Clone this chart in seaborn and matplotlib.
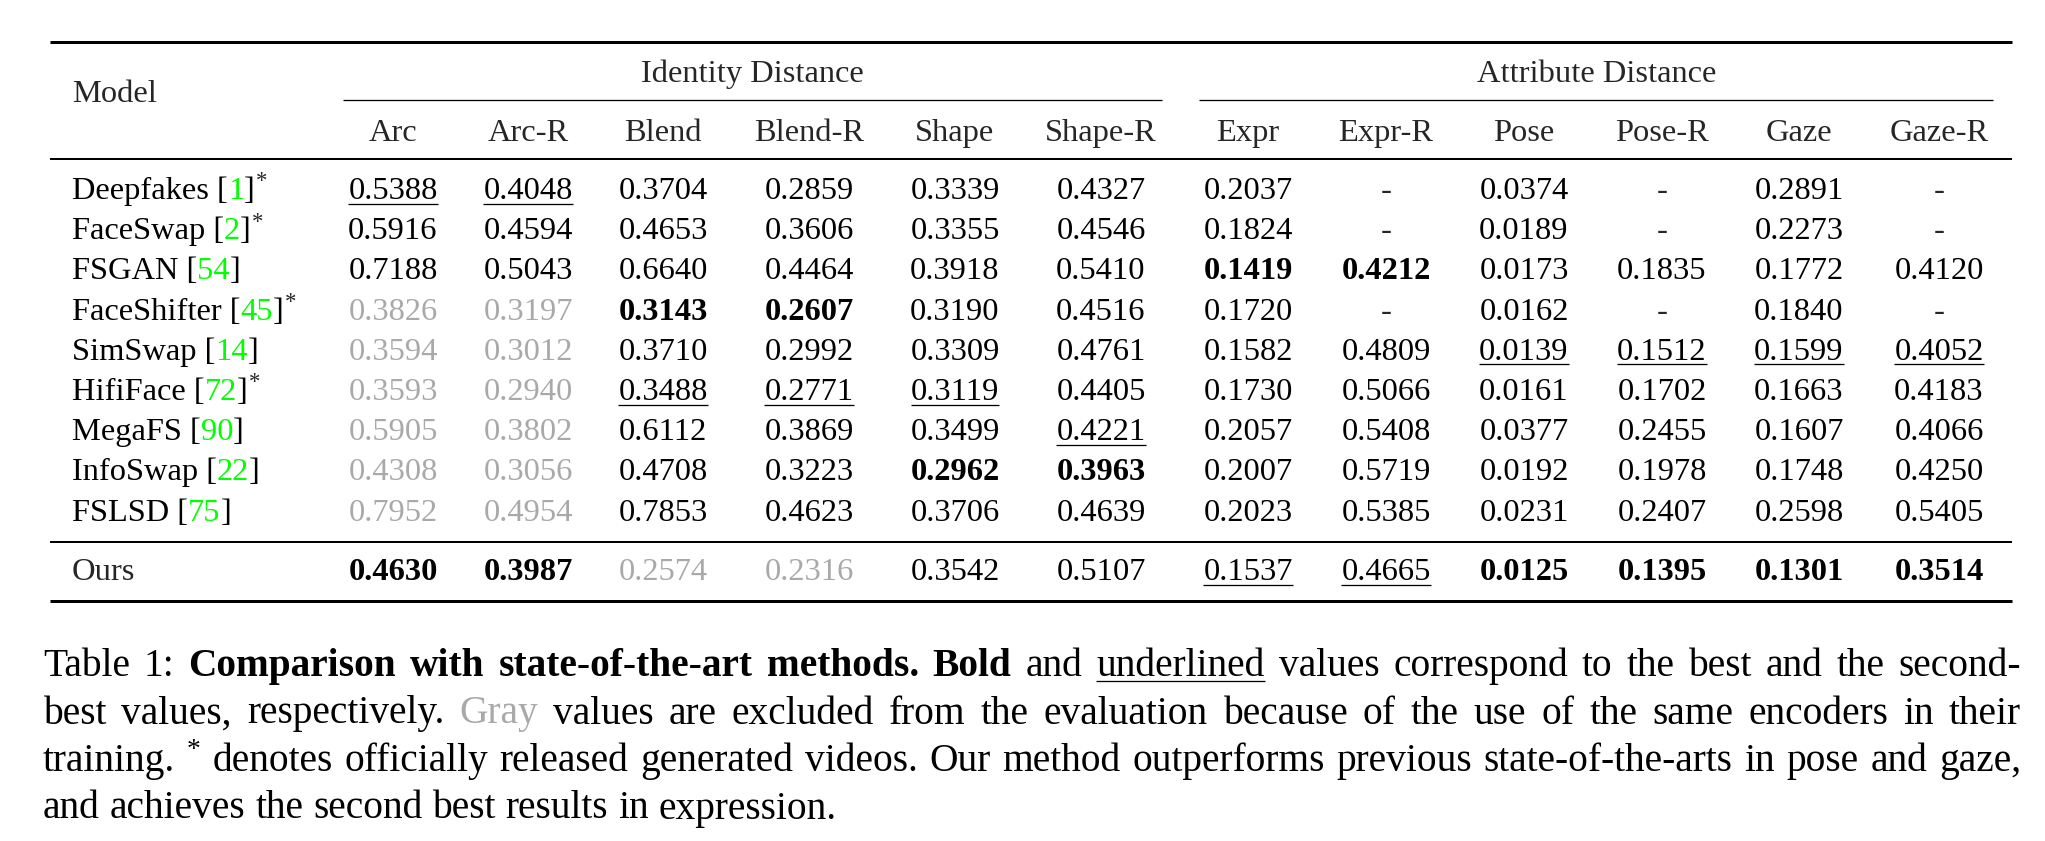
import matplotlib
matplotlib.use("Agg")
import matplotlib.pyplot as plt
import seaborn as sns
import pandas as pd

# ---------------- data ----------------
models = ["Deepfakes", "FaceSwap", "FSGAN", "FaceShifter", "SimSwap",
          "HifiFace", "MegaFS", "InfoSwap", "FSLSD", "Ours"]
citations = ["1", "2", "54", "45", "14", "72", "90", "22", "75", None]
released = [True, True, False, True, False, True, False, False, False, False]

groups = ["Identity Distance", "Attribute Distance"]
metrics = ["Arc", "Arc-R", "Blend", "Blend-R", "Shape", "Shape-R",
           "Expr", "Expr-R", "Pose", "Pose-R", "Gaze", "Gaze-R"]

arc      = [0.5388, 0.5916, 0.7188, 0.3826, 0.3594, 0.3593, 0.5905, 0.4308, 0.7952, 0.4630]
arc_r    = [0.4048, 0.4594, 0.5043, 0.3197, 0.3012, 0.2940, 0.3802, 0.3056, 0.4954, 0.3987]
blend    = [0.3704, 0.4653, 0.6640, 0.3143, 0.3710, 0.3488, 0.6112, 0.4708, 0.7853, 0.2574]
blend_r  = [0.2859, 0.3606, 0.4464, 0.2607, 0.2992, 0.2771, 0.3869, 0.3223, 0.4623, 0.2316]
shape    = [0.3339, 0.3355, 0.3918, 0.3190, 0.3309, 0.3119, 0.3499, 0.2962, 0.3706, 0.3542]
shape_r  = [0.4327, 0.4546, 0.5410, 0.4516, 0.4761, 0.4405, 0.4221, 0.3963, 0.4639, 0.5107]
expr     = [0.2037, 0.1824, 0.1419, 0.1720, 0.1582, 0.1730, 0.2057, 0.2007, 0.2023, 0.1537]
expr_r   = [None, None, 0.4212, None, 0.4809, 0.5066, 0.5408, 0.5719, 0.5385, 0.4665]
pose     = [0.0374, 0.0189, 0.0173, 0.0162, 0.0139, 0.0161, 0.0377, 0.0192, 0.0231, 0.0125]
pose_r   = [None, None, 0.1835, None, 0.1512, 0.1702, 0.2455, 0.1978, 0.2407, 0.1395]
gaze     = [0.2891, 0.2273, 0.1772, 0.1840, 0.1599, 0.1663, 0.1607, 0.1748, 0.2598, 0.1301]
gaze_r   = [None, None, 0.4120, None, 0.4052, 0.4183, 0.4066, 0.4250, 0.5405, 0.3514]

# cell highlighting (row index, column index)
bold_cells = [(2, 6), (2, 7), (3, 2), (3, 3), (7, 4), (7, 5),
              (9, 0), (9, 1), (9, 8), (9, 9), (9, 10), (9, 11)]
underline_cells = [(0, 0), (0, 1), (4, 8), (4, 9), (4, 10), (4, 11),
                   (5, 2), (5, 3), (5, 4), (6, 5), (9, 6), (9, 7)]
gray_cells = [(r, c) for r in range(3, 9) for c in (0, 1)] + [(9, 2), (9, 3)]

caption_lines = [
    [("Table 1:", "n"), ("Comparison with state-of-the-art methods.", "b"),
     ("Bold", "b"), ("and", "n"), ("underlined", "u"),
     ("values correspond to the best and the second-", "n")],
    [("best values, respectively.", "n"), ("Gray", "g"),
     ("values are excluded from the evaluation because of the use of the same encoders in their", "n")],
    [("training.", "n"), ("*", "s"),
     ("denotes officially released generated videos. Our method outperforms previous state-of-the-arts in pose and gaze,", "n")],
    [("and achieves the second best results in expression.", "n")],
]

df = pd.DataFrame(dict(zip(metrics, [arc, arc_r, blend, blend_r, shape, shape_r,
                                     expr, expr_r, pose, pose_r, gaze, gaze_r])),
                  index=models)

# ---------------- style / layout ----------------
sns.set_theme(style="white")
plt.rcParams["font.family"] = ["Liberation Serif", "DejaVu Serif"]

W, H, DPI = 2045, 841, 100
PX = 72.0 / DPI
TABLE_EM = 32.5
CAP_EM = 39.4
TABLE_FS = TABLE_EM * PX
CAP_FS = CAP_EM * PX
GREEN = "#00ff00"
GRAY = "#a9a9a9"

fig = plt.figure(figsize=(W / DPI, H / DPI), dpi=DPI)
ax = fig.add_axes([0, 0, 1, 1])
ax.set_xlim(0, W)
ax.set_ylim(H, 0)
ax.axis("off")
fig.canvas.draw()
renderer = fig.canvas.get_renderer()


def width_of(s, **kw):
    t = ax.text(0, 0, s, **kw)
    w = t.get_window_extent(renderer).width
    t.remove()
    return w


col_x = [393, 528, 663, 809, 955, 1101, 1248, 1386, 1524, 1662, 1799, 1939]
row_y = [199 + 40.2 * i for i in range(9)] + [580]
left_x = 72

# rules
ax.hlines(41.5, 50, 2012, color="black", lw=3.0 * PX)
ax.hlines(100, 343, 1162, color="black", lw=1.3 * PX)
ax.hlines(100, 1199, 1993, color="black", lw=1.3 * PX)
ax.hlines(159, 50, 2012, color="black", lw=2.0 * PX)
ax.hlines(542, 50, 2012, color="black", lw=2.0 * PX)
ax.hlines(601, 50, 2012, color="black", lw=3.0 * PX)

# headers
ax.text(left_x, 101.5, "Model", fontsize=TABLE_FS, va="baseline", ha="left")
ax.text(752, 82, groups[0], fontsize=TABLE_FS, va="baseline", ha="center")
ax.text(1597, 82, groups[1], fontsize=TABLE_FS, va="baseline", ha="center")
for cx, m in zip(col_x, metrics):
    ax.text(cx, 141, m, fontsize=TABLE_FS, va="baseline", ha="center")

# model names
for r, (name, cite, star) in enumerate(zip(models, citations, released)):
    y = row_y[r]
    if cite is None:
        ax.text(left_x, y, name, fontsize=TABLE_FS, va="baseline", ha="left")
        continue
    x = left_x
    for piece, col in [(name + " [", "black"), (cite, GREEN), ("]", "black")]:
        ax.text(x, y, piece, fontsize=TABLE_FS, va="baseline", ha="left", color=col)
        x += width_of(piece, fontsize=TABLE_FS)
    if star:
        ax.text(x + 1, y - 0.36 * TABLE_EM, "*", fontsize=TABLE_FS * 0.7,
                va="baseline", ha="left")

# values
bold_set, ul_set, gray_set = set(bold_cells), set(underline_cells), set(gray_cells)
for r, model in enumerate(df.index):
    for c, m in enumerate(df.columns):
        v = df.loc[model, m]
        y = row_y[r]
        if v is None or pd.isna(v):
            ax.text(col_x[c], y, "-", fontsize=TABLE_FS, va="baseline", ha="center")
            continue
        s = f"{v:.4f}"
        kw = dict(fontsize=TABLE_FS, va="baseline", ha="center")
        if (r, c) in bold_set:
            kw["fontweight"] = "bold"
        kw["color"] = GRAY if (r, c) in gray_set else "black"
        t = ax.text(col_x[c], y, s, **kw)
        if (r, c) in ul_set:
            bb = t.get_window_extent(renderer)
            ax.hlines(y + 4.5, bb.x0, bb.x1, color="black", lw=1.3 * PX)

# caption (justified)
cap_left, cap_right = 43, 2021
cap_base = [676, 723.5, 771, 818.5]
for li, line in enumerate(caption_lines):
    words = []
    for chunk, st in line:
        for w in chunk.split(" "):
            words.append((w, st))
    widths = []
    for w, st in words:
        kw = dict(fontsize=CAP_FS * (0.7 if st == "s" else 1.0),
                  fontweight="bold" if st == "b" else "normal")
        widths.append(width_of(w, **kw))
    last = li == len(caption_lines) - 1
    if last:
        gap = width_of("a a", fontsize=CAP_FS) - width_of("aa", fontsize=CAP_FS)
    else:
        gap = (cap_right - cap_left - sum(widths)) / (len(words) - 1)
    x = cap_left
    y = cap_base[li]
    for (w, st), wd in zip(words, widths):
        kw = dict(fontsize=CAP_FS, va="baseline", ha="left", color="black")
        yy = y
        if st == "b":
            kw["fontweight"] = "bold"
        elif st == "g":
            kw["color"] = GRAY
        elif st == "s":
            kw["fontsize"] = CAP_FS * 0.7
            yy = y - 0.36 * CAP_EM
        ax.text(x, yy, w, **kw)
        if st == "u":
            ax.hlines(y + 5, x, x + wd, color="black", lw=1.3 * PX)
        x += wd + gap

fig.savefig("out.png", dpi=DPI)
